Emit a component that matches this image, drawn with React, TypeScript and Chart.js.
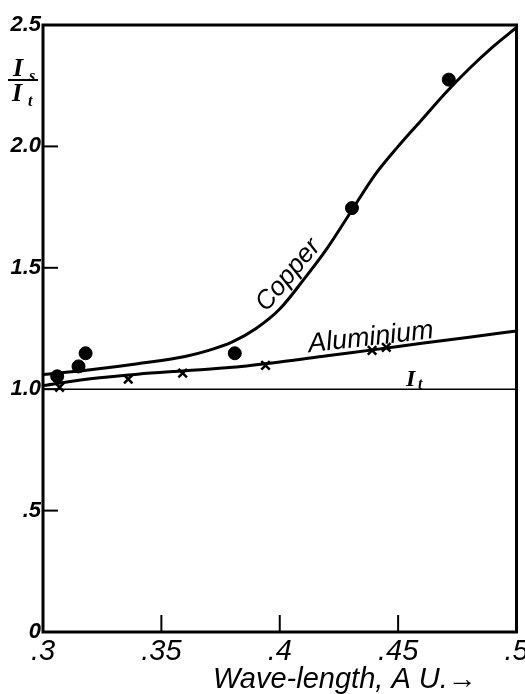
import React, { useEffect, useRef } from "react";
import { Chart, registerables } from "chart.js";

Chart.register(...registerables);

// Smooth curves
const copperCurveX = [0.3, 0.32, 0.34, 0.36, 0.37, 0.38, 0.39, 0.4, 0.41, 0.42, 0.43, 0.44, 0.45, 0.46, 0.47, 0.48, 0.49, 0.5];
const copperCurveY = [1.06, 1.08, 1.105, 1.135, 1.16, 1.195, 1.25, 1.33, 1.45, 1.58, 1.73, 1.88, 2.0, 2.11, 2.22, 2.32, 2.41, 2.49];
const aluminiumCurveX = [0.3, 0.32, 0.34, 0.36, 0.38, 0.4, 0.42, 0.44, 0.46, 0.48, 0.5];
const aluminiumCurveY = [1.015, 1.043, 1.062, 1.076, 1.09, 1.112, 1.138, 1.163, 1.189, 1.214, 1.24];

// Measured points
const copperPointsX = [0.306, 0.315, 0.318, 0.381, 0.4305, 0.4714];
const copperPointsY = [1.053, 1.094, 1.148, 1.148, 1.746, 2.275];
const aluminiumPointsX = [0.307, 0.336, 0.359, 0.394, 0.439, 0.445];
const aluminiumPointsY = [1.008, 1.041, 1.066, 1.098, 1.16, 1.172];

// Reference I_t line
const itLineX = [0.3, 0.5];
const itLineY = [1.0, 1.0];

// Ticks
const xTickValues = [0.3, 0.35, 0.4, 0.45, 0.5];
const xTickLabels = [".3", ".35", ".4", ".45", ".5"];
const yTickValues = [0, 0.5, 1.0, 1.5, 2.0, 2.5];
const yTickLabels = ["0", ".5", "1.0", "1.5", "2.0", "2.5"];

const xTitle = "Wave-length, A U.\u2192";

const zip = (xs: number[], ys: number[]) => xs.map((x, i) => ({ x, y: ys[i] }));

const SANS = "'Liberation Sans', sans-serif";
const SERIF = "'Liberation Serif', serif";

const decorPlugin = {
  id: "decor",
  beforeDraw(chart: any) {
    const { ctx, width, height } = chart;
    ctx.save();
    ctx.fillStyle = "#fff";
    ctx.fillRect(0, 0, width, height);
    ctx.restore();
  },
  afterDraw(chart: any) {
    const { ctx, chartArea } = chart;
    const xs = chart.scales.x;
    const ys = chart.scales.y;
    const { left, right, top, bottom } = chartArea;
    ctx.save();
    ctx.strokeStyle = "#000";
    ctx.fillStyle = "#000";
    // frame
    ctx.lineWidth = 3;
    ctx.strokeRect(left, top, right - left, bottom - top);
    // inward ticks
    ctx.lineWidth = 2;
    [0.5, 1.0, 1.5, 2.0].forEach((v) => {
      const p = ys.getPixelForValue(v);
      ctx.beginPath();
      ctx.moveTo(left, p);
      ctx.lineTo(left + 15, p);
      ctx.stroke();
    });
    [0.35, 0.4, 0.45].forEach((v) => {
      const p = xs.getPixelForValue(v);
      ctx.beginPath();
      ctx.moveTo(p, bottom);
      ctx.lineTo(p, bottom - 17);
      ctx.stroke();
    });

    // Copper label
    ctx.save();
    ctx.translate(xs.getPixelForValue(0.4036), ys.getPixelForValue(1.47));
    ctx.rotate((-50 * Math.PI) / 180);
    ctx.font = `italic 26px ${SANS}`;
    ctx.textAlign = "center";
    ctx.textBaseline = "middle";
    ctx.fillText("Copper", 0, 0);
    ctx.restore();

    // Aluminium label
    ctx.save();
    ctx.translate(xs.getPixelForValue(0.4124), ys.getPixelForValue(1.152));
    ctx.rotate((-6.5 * Math.PI) / 180);
    ctx.font = `italic 27px ${SANS}`;
    ctx.textAlign = "left";
    ctx.textBaseline = "alphabetic";
    ctx.fillText("Aluminium", 0, 0);
    ctx.restore();

    // I_t label
    ctx.textAlign = "left";
    ctx.textBaseline = "alphabetic";
    const itX = xs.getPixelForValue(0.4533);
    const itY = ys.getPixelForValue(1.012);
    ctx.font = `italic bold 24px ${SERIF}`;
    ctx.fillText("I", itX, itY);
    ctx.font = `italic bold 16px ${SERIF}`;
    ctx.fillText("t", itX + 12, itY + 3);

    // Y title fraction
    ctx.font = `italic bold 26px ${SERIF}`;
    ctx.fillText("I", 13, 76);
    ctx.font = `italic bold 16px ${SERIF}`;
    ctx.fillText("s", 29, 81);
    ctx.lineWidth = 2;
    ctx.beginPath();
    ctx.moveTo(8, 80);
    ctx.lineTo(38, 80);
    ctx.stroke();
    ctx.font = `italic bold 26px ${SERIF}`;
    ctx.fillText("I", 12, 101);
    ctx.font = `italic bold 16px ${SERIF}`;
    ctx.fillText("t", 28, 106);

    // X title
    ctx.font = `italic 29px ${SANS}`;
    ctx.fillText(xTitle, 213, 688);
    ctx.restore();
  },
};

export default function App() {
  const ref = useRef<HTMLCanvasElement | null>(null);

  useEffect(() => {
    if (!ref.current) return;
    const chart = new Chart(ref.current, {
      type: "scatter",
      data: {
        datasets: [
          {
            type: "line",
            label: "Copper",
            data: zip(copperCurveX, copperCurveY),
            borderColor: "#000",
            borderWidth: 3,
            pointRadius: 0,
            cubicInterpolationMode: "monotone",
            fill: false,
          } as any,
          {
            type: "line",
            label: "Aluminium",
            data: zip(aluminiumCurveX, aluminiumCurveY),
            borderColor: "#000",
            borderWidth: 3,
            pointRadius: 0,
            cubicInterpolationMode: "monotone",
            fill: false,
          } as any,
          {
            type: "line",
            label: "It",
            data: zip(itLineX, itLineY),
            borderColor: "#000",
            borderWidth: 1.5,
            pointRadius: 0,
            fill: false,
          } as any,
          {
            type: "scatter",
            label: "Copper points",
            data: zip(copperPointsX, copperPointsY),
            pointStyle: "circle",
            pointRadius: 6.5,
            backgroundColor: "#000",
            borderColor: "#000",
          } as any,
          {
            type: "scatter",
            label: "Aluminium points",
            data: zip(aluminiumPointsX, aluminiumPointsY),
            pointStyle: "crossRot",
            pointRadius: 6,
            borderWidth: 2.5,
            borderColor: "#000",
          } as any,
        ],
      },
      options: {
        animation: false,
        responsive: false,
        maintainAspectRatio: false,
        layout: { padding: { top: 25, right: 7, left: 0, bottom: 0 } },
        plugins: {
          legend: { display: false },
          tooltip: { enabled: false },
          title: { display: false },
        },
        scales: {
          x: {
            type: "linear",
            min: 0.3,
            max: 0.5,
            border: { display: false },
            grid: { display: false, drawTicks: false },
            afterBuildTicks: (s: any) => {
              s.ticks = xTickValues.map((v) => ({ value: v }));
            },
            afterFit: (s: any) => {
              s.height = 62;
              s.paddingLeft = 0;
              s.paddingRight = 0;
            },
            ticks: {
              color: "#000",
              padding: 3,
              maxRotation: 0,
              autoSkip: false,
              font: { family: SANS, size: 29, style: "italic" },
              callback: (v: any) => {
                const i = xTickValues.findIndex((t) => Math.abs(t - Number(v)) < 1e-6);
                return i >= 0 ? xTickLabels[i] : "";
              },
            },
          },
          y: {
            type: "linear",
            min: 0,
            max: 2.5,
            border: { display: false },
            grid: { display: false, drawTicks: false },
            afterBuildTicks: (s: any) => {
              s.ticks = yTickValues.map((v) => ({ value: v }));
            },
            afterFit: (s: any) => {
              s.width = 43;
              s.paddingTop = 0;
              s.paddingBottom = 0;
            },
            ticks: {
              color: "#000",
              padding: 2,
              autoSkip: false,
              font: { family: SANS, size: 22, style: "italic", weight: "bold" },
              callback: (v: any) => {
                const i = yTickValues.findIndex((t) => Math.abs(t - Number(v)) < 1e-6);
                return i >= 0 ? yTickLabels[i] : "";
              },
            },
          },
        },
      },
      plugins: [decorPlugin],
    });
    return () => chart.destroy();
  }, []);

  return (
    <div style={{ position: "fixed", left: 0, top: 0, width: 525, height: 694, background: "#fff" }}>
      <canvas ref={ref} width={525} height={694} style={{ width: 525, height: 694, display: "block" }} />
    </div>
  );
}
